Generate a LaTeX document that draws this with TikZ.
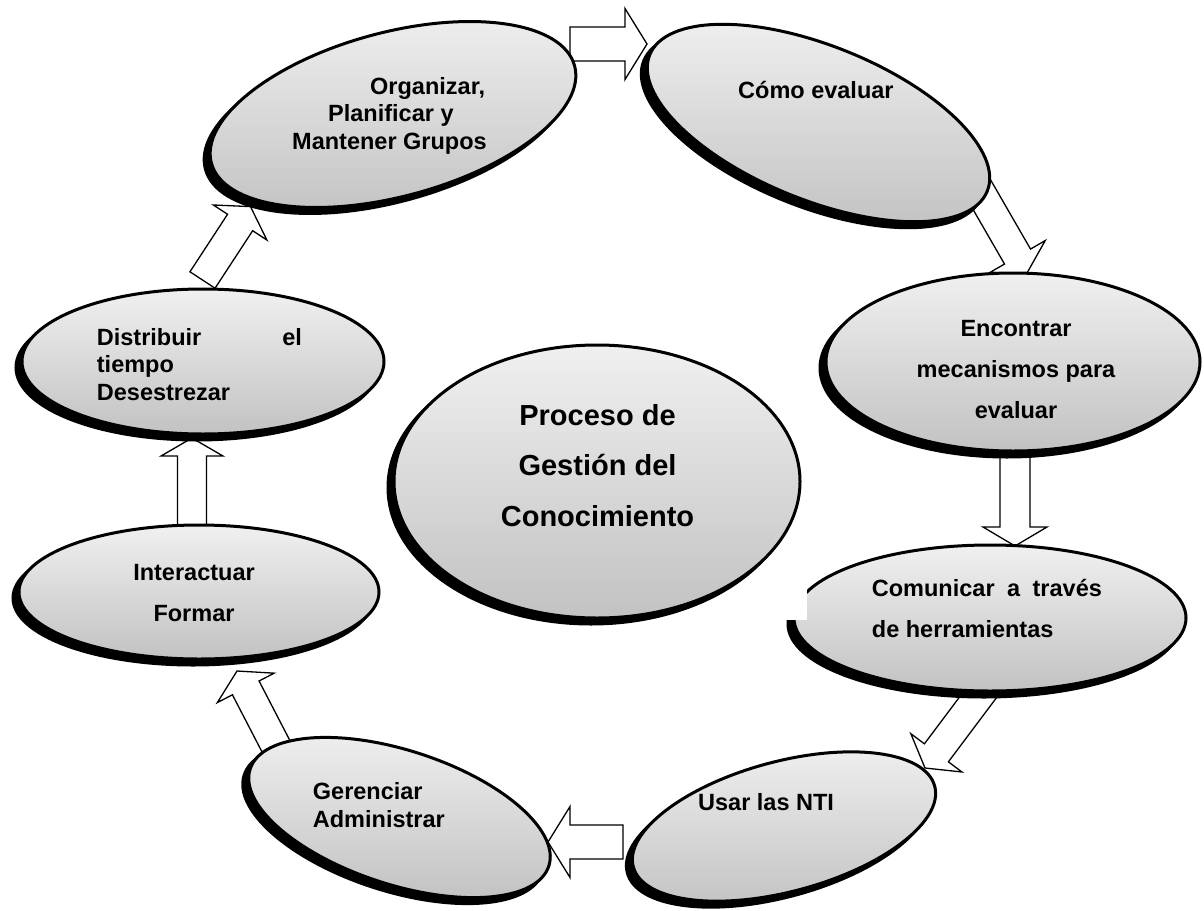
\documentclass[tikz,border=0pt]{standalone}
\usepackage{fontspec}
\setmainfont{Liberation Sans}
\usetikzlibrary{calc,shapes.geometric}
\definecolor{ellTop}{RGB}{240,240,240}
\definecolor{ellBot}{RGB}{194,194,194}
\tikzset{
  bubble/.style={ellipse, draw=black, line width=3pt, top color=ellTop, bottom color=ellBot,
    inner sep=0pt, preaction={fill=black, draw=black, line width=3pt, transform canvas={shift={(-6pt,-6pt)}}}},
  blockarrow/.style={draw=black, fill=white, line width=1.3pt, line join=miter},
  lbl/.style={font=\fontsize{23.5}{27.7}\selectfont\bfseries, inner sep=0pt, align=left},
  lblwide/.style={font=\fontsize{23.5}{41}\selectfont\bfseries, inner sep=0pt},
  lblbig/.style={font=\fontsize{29}{50.8}\selectfont\bfseries, inner sep=0pt, align=center},
}
\newcommand\barrow[4]{%
  \coordinate (#1h) at ($(#1e)!#4!(#1s)$);
  \draw[blockarrow] ($(#1s)!#2!90:(#1e)$) -- ($(#1h)!#2!90:(#1e)$) -- ($(#1h)!#3!90:(#1e)$)
    -- (#1e) -- ($(#1h)!#3!-90:(#1e)$) -- ($(#1h)!#2!-90:(#1e)$) -- ($(#1s)!#2!-90:(#1e)$) -- cycle;}
\begin{document}
\begin{tikzpicture}[x=1pt,y=-1pt]
\useasboundingbox[fill=white] (0,0) rectangle (1204,910);
% arrow end points
\coordinate (As) at (570,44);      \coordinate (Ae) at (647,44);
\coordinate (Bs) at (967,169);     \coordinate (Be) at (1027,273);
\coordinate (Cs) at (1015,430);    \coordinate (Ce) at (1015,546);
\coordinate (Ds) at (1003,664);    \coordinate (De) at (925,768);
\coordinate (Es) at (623,842);     \coordinate (Ee) at (548,842);
\coordinate (Fs) at (287.6,768.7); \coordinate (Fe) at (237,671);
\coordinate (Gs) at (192,560);     \coordinate (Ge) at (192,438);
\coordinate (Hs) at (202.5,280);   \coordinate (He) at (250.5,206.6);
\barrow{A}{17pt}{35.5pt}{22pt}
\barrow{B}{15pt}{32pt}{19pt}
\barrow{C}{15pt}{32pt}{19pt}
\barrow{D}{15pt}{32pt}{19pt}
\barrow{E}{17pt}{35.5pt}{22pt}
\barrow{F}{15pt}{32pt}{19pt}
\barrow{G}{14.5pt}{31pt}{18pt}
\barrow{H}{15pt}{32pt}{19pt}
% ellipses
\node[bubble, minimum width=376pt, minimum height=164pt, rotate=15]  (org)   at (393,114.5) {};
\node[bubble, minimum width=364pt, minimum height=154pt, rotate=-22] (como)  at (818.5,123) {};
\node[bubble, minimum width=374pt, minimum height=178pt]             (enc)   at (1013,362) {};
\node[bubble, minimum width=392pt, minimum height=146pt]             (com)   at (990,618) {};
\node[bubble, minimum width=312pt, minimum height=130pt, rotate=15]  (usar)  at (784,826.5) {};
\node[bubble, minimum width=314pt, minimum height=134pt, rotate=-18] (ger)   at (399.5,817.5) {};
\node[bubble, minimum width=360pt, minimum height=134pt]             (inter) at (199,592) {};
\node[bubble, minimum width=362pt, minimum height=145pt]             (dist)  at (203,361.5) {};
\node[bubble, minimum width=406pt, minimum height=273pt]             (cen)   at (597,481.5) {};
% white patch over the left part of "Comunicar"
\fill[white] (780,570) rectangle (807,620);
% texts (anchor base = baseline of the last line)
\node[lbl, anchor=base west] (torg) at (292,149.5)
  {\hspace*{78pt}Organizar,\\\hspace*{36pt}Planificar y\\Mantener Grupos};
\node[lbl, anchor=base west] (tcomo) at (738,98) {Cómo evaluar};
\node[lblwide, align=center, anchor=base] (tenc) at (1016,418.3) {Encontrar\\mecanismos para\\evaluar};
\node[lblwide, align=left, anchor=base west] (tcom) at (871.7,637.7)
  {\hbox to 230pt{Comunicar\hfill a\hfill través}\\de herramientas};
\node[lbl, anchor=base west] (tusar) at (698,810) {Usar las NTI};
\node[lbl, anchor=base west] (tger) at (312.7,827.3) {Gerenciar\\Administrar};
\node[lblwide, align=center, anchor=base] (tinter) at (194,621.7) {Interactuar\\Formar};
\node[lbl, anchor=base west] (tdist) at (96.7,400.5)
  {\hbox to 205pt{Distribuir\hfill el}\\tiempo\\Desestrezar};
\node[lblbig, anchor=base] (tcen) at (597.5,526.7) {Proceso de\\Gestión del\\Conocimiento};
\end{tikzpicture}
\end{document}
